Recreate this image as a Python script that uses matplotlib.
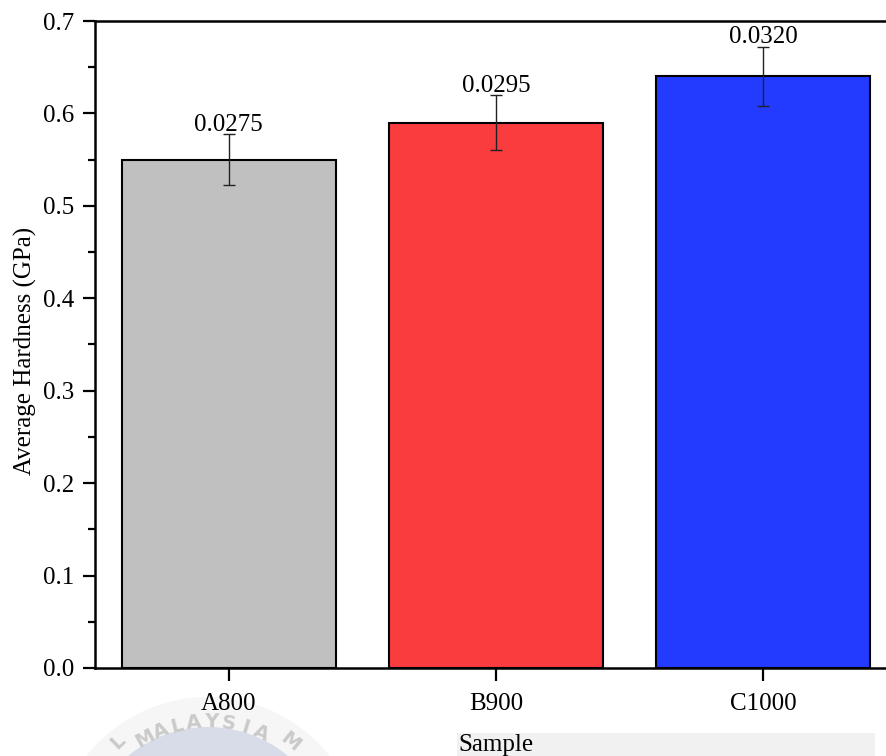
import numpy as np
import matplotlib
matplotlib.use("Agg")
import matplotlib.pyplot as plt
from matplotlib.patches import Circle, Rectangle
from matplotlib.ticker import MultipleLocator

# ---- data ----
samples = ["A800", "B900", "C1000"]
hardness = [0.55, 0.59, 0.64]
errors = [0.0275, 0.0295, 0.0320]
err_labels = ["0.0275", "0.0295", "0.0320"]
bar_colors = ["#c0c0c0", "#fa3c3f", "#223bff"]
yticks = [0.0, 0.1, 0.2, 0.3, 0.4, 0.5, 0.6, 0.7]
watermark_text = "L MALAYSIA M"

plt.rcParams["font.family"] = ["Liberation Serif", "DejaVu Serif"]

W, H = 886, 756
fig = plt.figure(figsize=(W / 100, H / 100), dpi=100)

# ---- background layer (watermark, label box) in pixel coords ----
bg = fig.add_axes([0, 0, 1, 1], zorder=-5)
bg.set_xlim(0, W)
bg.set_ylim(H, 0)
bg.axis("off")
cx, cy = 208, 852
bg.add_patch(Circle((cx, cy), 155, facecolor="#f6f6f6", edgecolor="none"))
bg.add_patch(Circle((cx, cy), 125, facecolor="#d8dce8", edgecolor="none"))
R = 130
step = 7.6
idx_M = watermark_text.index("MALAYSIA")
start_angle = 119 + idx_M * step
for i, ch in enumerate(watermark_text):
    if ch == " ":
        continue
    ang = start_angle - i * step
    a = np.deg2rad(ang)
    x = cx + R * np.cos(a)
    y = min(cy - R * np.sin(a), 742)
    bg.text(x, y, ch, rotation=ang - 90, ha="center", va="center",
            fontsize=14, fontweight="bold", color="#cacaca",
            family="DejaVu Sans", rotation_mode="anchor")
bg.add_patch(Rectangle((457, 733), 418, 30, facecolor="#f1f1f1", edgecolor="none"))

# ---- main axes ----
left, right, top, bottom = 95, 897, 21, 668
ax = fig.add_axes([left / W, (H - bottom) / H, (right - left) / W, (bottom - top) / H])
ax.set_facecolor("none")

x = np.arange(len(samples))
ax.bar(x, hardness, width=0.8, color=bar_colors, edgecolor="black", linewidth=1.5, zorder=2)
ax.errorbar(x, hardness, yerr=errors, fmt="none", ecolor="#222222", elinewidth=1.0,
            capsize=4.5, capthick=1.0, zorder=3)
for xi, h, e, lab in zip(x, hardness, errors, err_labels):
    ax.annotate(lab, (xi, h + e), xytext=(0, -1), textcoords="offset points",
                ha="center", va="bottom", fontsize=18)

ax.set_xlim(-0.5, len(samples) - 0.5)
ax.set_ylim(0, 0.7)
ax.set_xticks(x)
ax.set_xticklabels(samples)
ax.set_yticks(yticks)
ax.set_yticklabels([f"{v:.1f}" for v in yticks])
ax.yaxis.set_minor_locator(MultipleLocator(0.05))
ax.tick_params(axis="both", which="major", direction="out", length=9, width=1.6,
               labelsize=18, pad=6)
ax.tick_params(axis="y", which="minor", direction="out", length=5, width=1.6)
ax.tick_params(axis="x", which="major", pad=9)
for s in ["left", "top", "bottom", "right"]:
    ax.spines[s].set_linewidth(1.8)

ax.set_ylabel("Average Hardness (GPa)", fontsize=18)
ax.yaxis.set_label_coords((37 - left) / (right - left), (bottom - 351) / (bottom - top))
ax.set_xlabel("Sample", fontsize=18)
ax.xaxis.set_label_coords(0.5, (bottom - 734) / (bottom - top))

fig.savefig("out.png", dpi=100)
